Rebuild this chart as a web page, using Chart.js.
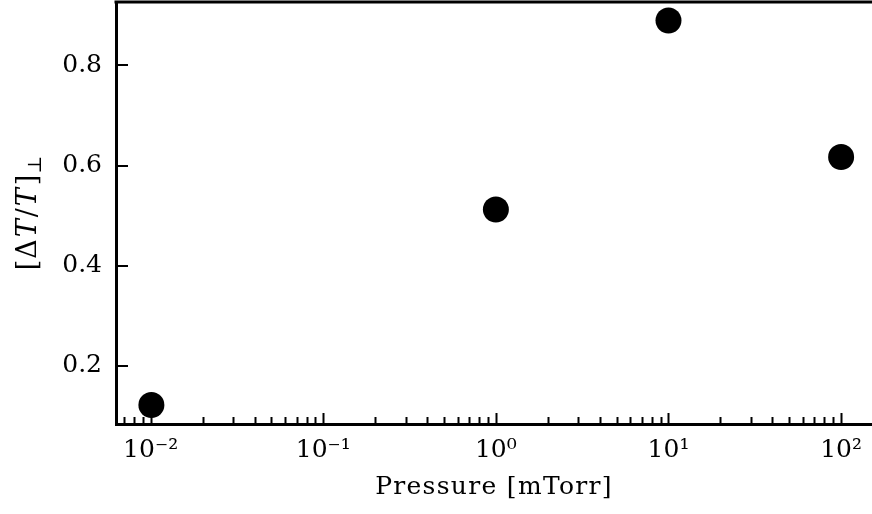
<!DOCTYPE html>
<html>
<head>
<meta charset="utf-8">
<script src="https://cdn.jsdelivr.net/npm/chart.js@4"></script>
<style>
html, body { margin: 0; padding: 0; background: #fff; }
#wrap { width: 872px; height: 514px; }
</style>
</head>
<body>
<div id="wrap"><canvas id="chart"></canvas></div>
<script>
// Daten
var pressure = [0.0101, 1.0, 10.0, 100.0];      // mTorr
var deltaT = [0.121, 0.512, 0.890, 0.617];      // [dT/T]_perp
var xTickValues = [0.01, 0.1, 1, 10, 100];
var xTickLabels = ["10\u207B\u00B2", "10\u207B\u00B9", "10\u2070", "10\u00B9", "10\u00B2"];
var yTickValues = [0.2, 0.4, 0.6, 0.8];
var yTickLabels = ["0.2", "0.4", "0.6", "0.8"];
var xRange = [0.0063, 151];
var yRange = [0.083, 0.927];

var FONT = "'DejaVu Serif', serif";

// alle Log-Ticks (1..9 x 10^n) im Bereich
function logTicks(min, max) {
    var t = [];
    for (var e = -3; e <= 3; e++) {
        for (var m = 1; m <= 9; m++) {
            var v = m * Math.pow(10, e);
            if (v >= min && v <= max) t.push({ value: v, major: m === 1 });
        }
    }
    return t;
}

// Ticks nach innen + oberer Rahmen + Achsentitel
var innerTicks = {
    id: 'innerTicks',
    afterDraw: function(chart) {
        var ctx = chart.ctx, a = chart.chartArea;
        var xs = chart.scales.x, ys = chart.scales.y;
        ctx.save();
        ctx.strokeStyle = '#000';
        ctx.lineWidth = 2;
        ctx.beginPath();
        xs.ticks.forEach(function(t) {
            var px = Math.round(xs.getPixelForValue(t.value)) + 0.5;
            if (px < a.left + 1 || px > a.right) return;
            var len = xTickValues.indexOf(t.value) >= 0 ? 11 : 7;
            ctx.moveTo(px, a.bottom);
            ctx.lineTo(px, a.bottom - len);
        });
        ys.ticks.forEach(function(t) {
            var py = Math.round(ys.getPixelForValue(t.value));
            ctx.moveTo(a.left, py);
            ctx.lineTo(a.left + 12, py);
        });
        ctx.stroke();
        // oberer Rahmen
        ctx.lineWidth = 3;
        ctx.beginPath();
        ctx.moveTo(a.left - 1.5, a.top);
        ctx.lineTo(a.right, a.top);
        ctx.stroke();

        // x-Titel
        ctx.fillStyle = '#000';
        ctx.font = "25px " + FONT;
        ctx.letterSpacing = "1.3px";
        ctx.textAlign = 'center';
        ctx.textBaseline = 'alphabetic';
        ctx.fillText("Pressure [mTorr]", (a.left + a.right) / 2, 494);

        // y-Titel [ΔT/T]⊥
        ctx.letterSpacing = "0px";
        ctx.translate(36, (a.top + a.bottom) / 2);
        ctx.rotate(-Math.PI / 2);
        var parts = [
            { s: "[", f: "27px " + FONT, dy: 0, gap: 1 },
            { s: "\u0394", f: "27px " + FONT, dy: 0, gap: 2 },
            { s: "T", f: "italic 27px " + FONT, dy: 0, gap: 2 },
            { s: "/", f: "27px " + FONT, dy: 0, gap: 2 },
            { s: "T", f: "italic 27px " + FONT, dy: 0, gap: 3 },
            { s: "]", f: "27px " + FONT, dy: 0, gap: 1 },
            { s: "\u22A5", f: "19px " + FONT, dy: 5, gap: 0 }
        ];
        var total = 0;
        parts.forEach(function(p) { ctx.font = p.f; p.w = ctx.measureText(p.s).width; total += p.w + p.gap; });
        var x = -total / 2;
        ctx.textAlign = 'left';
        parts.forEach(function(p) {
            ctx.font = p.f;
            ctx.fillText(p.s, x, p.dy);
            x += p.w + p.gap;
        });
        ctx.restore();
    }
};

new Chart(document.getElementById('chart'), {
    type: 'scatter',
    data: {
        datasets: [{
            data: pressure.map(function(p, i) { return { x: p, y: deltaT[i] }; }),
            backgroundColor: '#000',
            borderWidth: 0,
            pointRadius: 13,
            pointHoverRadius: 13,
            clip: false
        }]
    },
    options: {
        responsive: true,
        maintainAspectRatio: false,
        animation: false,
        devicePixelRatio: 1,
        layout: { autoPadding: false, padding: { top: 2, right: 0, left: 0, bottom: 0 } },
        plugins: { legend: { display: false }, tooltip: { enabled: false } },
        scales: {
            x: {
                type: 'logarithmic',
                min: xRange[0],
                max: xRange[1],
                afterBuildTicks: function(s) { s.ticks = logTicks(xRange[0], xRange[1]); },
                afterFit: function(s) { s.height = 90; s.paddingLeft = 0; s.paddingRight = 0; },
                grid: { drawOnChartArea: false, drawTicks: false },
                border: { display: true, color: '#000', width: 3 },
                ticks: {
                    autoSkip: false,
                    maxRotation: 0,
                    padding: 11,
                    color: '#000',
                    font: { family: FONT, size: 25 },
                    callback: function(v) {
                        var i = xTickValues.indexOf(v);
                        return i >= 0 ? xTickLabels[i] : '';
                    }
                }
            },
            y: {
                min: yRange[0],
                max: yRange[1],
                afterBuildTicks: function(s) { s.ticks = yTickValues.map(function(v) { return { value: v }; }); },
                afterFit: function(s) { s.width = 116; s.paddingTop = 0; s.paddingBottom = 0; },
                grid: { drawOnChartArea: false, drawTicks: false },
                border: { display: true, color: '#000', width: 3 },
                ticks: {
                    padding: 14,
                    color: '#000',
                    font: { family: FONT, size: 25 },
                    callback: function(v) {
                        var i = yTickValues.indexOf(v);
                        return i >= 0 ? yTickLabels[i] : '';
                    }
                }
            }
        }
    },
    plugins: [innerTicks]
});
</script>
</body>
</html>
